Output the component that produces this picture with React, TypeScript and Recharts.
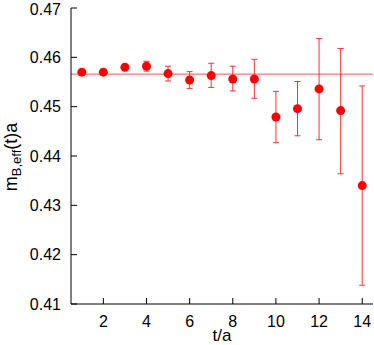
import React from 'react';
import { ComposedChart, Scatter, XAxis, YAxis, ErrorBar, ReferenceLine } from 'recharts';

const tValues = [1, 2, 3, 4, 5, 6, 7, 8, 9, 10, 11, 12, 13, 14];
const mEff = [0.4570, 0.4570, 0.4580, 0.4582, 0.4567, 0.4554, 0.4563, 0.4556, 0.4556, 0.4479, 0.4496, 0.4536, 0.4492, 0.4340];
const errDown = [0.0003, 0.0003, 0.0005, 0.0010, 0.0015, 0.0017, 0.0024, 0.0024, 0.0039, 0.0052, 0.0055, 0.0103, 0.0128, 0.0202];
const errUp = [0.0003, 0.0003, 0.0005, 0.0010, 0.0015, 0.0017, 0.0025, 0.0026, 0.0040, 0.0052, 0.0055, 0.0102, 0.0126, 0.0202];
const plateau = 0.4566;
const xTicks = [2, 4, 6, 8, 10, 12, 14];
const yTicks = [0.41, 0.42, 0.43, 0.44, 0.45, 0.46, 0.47];

const data = tValues.map((t, i) => ({ t, m: mEff[i], err: [errDown[i], errUp[i]] }));

const FONT = '"Liberation Sans", Arial, Helvetica, sans-serif';
const tickStyle = { fontFamily: FONT, fontSize: 16, fill: '#000' };

const Dot = (props: any) => <circle cx={props.cx} cy={props.cy} r={4.5} fill="#ff0000" />;
const Empty = () => <g />;

export default function App() {
  return (
    <div style={{ position: 'absolute', left: 0, top: 0, width: 374, height: 345, background: '#fff' }}>
      <ComposedChart width={374} height={345} data={data} margin={{ top: 8, right: 1, bottom: 0, left: 0 }}>
        <XAxis
          xAxisId="b"
          dataKey="t"
          type="number"
          domain={[0.5, 14.5]}
          ticks={xTicks}
          allowDataOverflow
          height={41}
          tickSize={-6}
          tickMargin={18}
          stroke="#000"
          tick={tickStyle}
        />
        <XAxis
          xAxisId="t"
          orientation="top"
          dataKey="t"
          type="number"
          domain={[0.5, 14.5]}
          ticks={xTicks}
          allowDataOverflow
          height={0}
          tickSize={-6}
          stroke="#000"
          tick={<Empty />}
        />
        <YAxis
          yAxisId="l"
          type="number"
          domain={[0.41, 0.47]}
          ticks={yTicks}
          allowDataOverflow
          width={71}
          tickSize={-6}
          tickMargin={16}
          stroke="#000"
          tick={tickStyle}
          tickFormatter={(v: number) => v.toFixed(2)}
        />
        <YAxis
          yAxisId="r"
          orientation="right"
          type="number"
          domain={[0.41, 0.47]}
          ticks={yTicks}
          allowDataOverflow
          width={0}
          tickSize={-6}
          stroke="#000"
          tick={<Empty />}
        />
        <ReferenceLine xAxisId="b" yAxisId="l" y={plateau} stroke="#ff5555" strokeWidth={1} />
        <Scatter
          xAxisId="b"
          yAxisId="l"
          dataKey="m"
          fill="#ff0000"
          shape={<Dot />}
          isAnimationActive={false}
        >
          <ErrorBar dataKey="err" direction="y" width={3} stroke="#ff3333" strokeWidth={1} isAnimationActive={false} />
        </Scatter>
        <text x={222} y={341} textAnchor="middle" fontFamily={FONT} fontSize={17} fill="#000">t/a</text>
        <text transform="rotate(-90)" x={-157} y={17} textAnchor="middle" fontFamily={FONT} fontSize={18} fill="#000">
          m<tspan fontSize={13} dy={4}>B,eff</tspan><tspan dy={-4}>(t)a</tspan>
        </text>
      </ComposedChart>
    </div>
  );
}
